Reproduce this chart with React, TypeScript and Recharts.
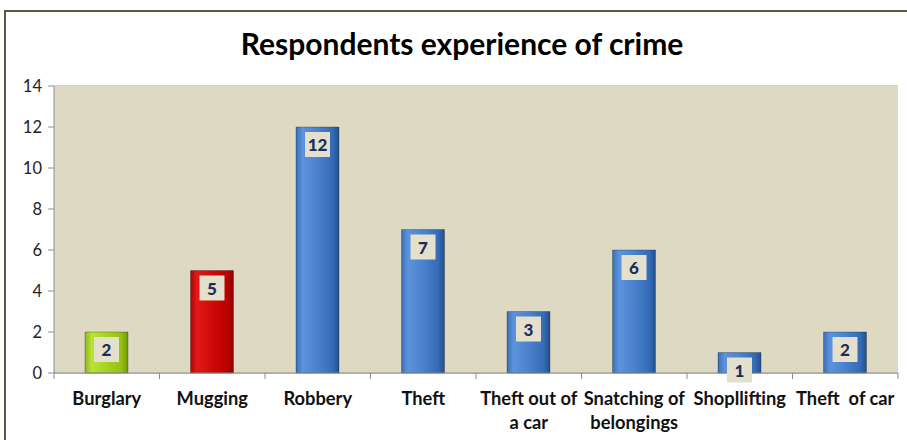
import { BarChart, Bar, XAxis, YAxis, CartesianGrid, Cell, LabelList } from "recharts";

const categories = [
  "Burglary",
  "Mugging",
  "Robbery",
  "Theft",
  "Theft out of a car",
  "Snatching of belongings",
  "Shopllifting",
  "Theft  of car",
];
const counts = [2, 5, 12, 7, 3, 6, 1, 2];
const barFills = ["green", "red", "blue", "blue", "blue", "blue", "blue", "blue"];
const yTicks = [0, 2, 4, 6, 8, 10, 12, 14];

const data = categories.map((name, i) => ({ name, value: counts[i], fill: barFills[i] }));

const FONT = "Lato, 'Open Sans', sans-serif";
const BAND = (898 - 54) / categories.length;

// wrap words into lines of at most 13 characters
const wrap = (text: string) => {
  const words = text.split(" ");
  const lines: string[] = [];
  let cur = "";
  words.forEach((w, i) => {
    const next = i === 0 ? w : cur + " " + w;
    if (next.length > 13 && cur.length > 0) {
      lines.push(cur);
      cur = w;
    } else {
      cur = next;
    }
  });
  lines.push(cur);
  return lines;
};

const CategoryTick = ({ x, payload, index }: any) => {
  const lines = wrap(payload.value);
  const top = 373;
  return (
    <g>
      <line x1={x - BAND / 2} x2={x - BAND / 2} y1={top} y2={top + 6} stroke="#8c8c8c" />
      {index === categories.length - 1 && (
        <line x1={x + BAND / 2} x2={x + BAND / 2} y1={top} y2={top + 6} stroke="#8c8c8c" />
      )}
      <text
        x={x}
        y={top + 32}
        textAnchor="middle"
        fontFamily={FONT}
        fontWeight="bold"
        fontSize={18.3}
        fill="#111"
        style={{ whiteSpace: "pre" }}
      >
        {lines.map((l, i) => (
          <tspan key={i} x={x} dy={i === 0 ? 0 : 24}>
            {l}
          </tspan>
        ))}
      </text>
    </g>
  );
};

const ValueLabel = ({ x, y, width, value }: any) => {
  const cx = x + width / 2;
  return (
    <g>
      <rect x={cx - 12.5} y={y + 5} width={25} height={25} fill="#e4e0cc" />
      <text
        x={cx}
        y={y + 24}
        textAnchor="middle"
        fontFamily={FONT}
        fontWeight="900"
        fontSize={17}
        fill="#1a2f5e"
      >
        {value}
      </text>
    </g>
  );
};

export default function App() {
  return (
    <div style={{ position: "fixed", left: 0, top: 0, width: 907, height: 440, overflow: "hidden", background: "#fff" }}>
      <div
        style={{
          position: "absolute",
          left: 0,
          width: 924,
          top: 25,
          textAlign: "center",
          fontFamily: FONT,
          fontWeight: "bold",
          fontSize: 30,
          color: "#000",
        }}
      >
        Respondents experience of crime
      </div>
      <div style={{ position: "absolute", left: 0, top: 0 }}>
        <BarChart
          width={907}
          height={440}
          data={data}
          margin={{ top: 86, right: 9, bottom: 0, left: 0 }}
          barSize={43}
        >
          <defs>
            <linearGradient id="blue" x1="0" y1="0" x2="1" y2="0">
              <stop offset="0%" stopColor="#3a6fb6" />
              <stop offset="15%" stopColor="#5b93dc" />
              <stop offset="50%" stopColor="#4a82cf" />
              <stop offset="85%" stopColor="#356cb8" />
              <stop offset="100%" stopColor="#24508f" />
            </linearGradient>
            <linearGradient id="red" x1="0" y1="0" x2="1" y2="0">
              <stop offset="0%" stopColor="#b00000" />
              <stop offset="15%" stopColor="#e01a1a" />
              <stop offset="50%" stopColor="#d00808" />
              <stop offset="85%" stopColor="#bb0000" />
              <stop offset="100%" stopColor="#8e0000" />
            </linearGradient>
            <linearGradient id="green" x1="0" y1="0" x2="1" y2="0">
              <stop offset="0%" stopColor="#8cb810" />
              <stop offset="15%" stopColor="#b8e23a" />
              <stop offset="50%" stopColor="#a6d31f" />
              <stop offset="85%" stopColor="#93c012" />
              <stop offset="100%" stopColor="#6f950a" />
            </linearGradient>
          </defs>
          <rect x={5} y={11} width={930} height={460} fill="none" stroke="#5a5a48" strokeWidth={2} />
          <rect x={54} y={86} width={844} height={287} fill="#ddd9c3" />
          <CartesianGrid vertical={false} stroke="#a8a27a" fill="#ddd9c3" />
          <XAxis
            dataKey="name"
            interval={0}
            height={67}
            tickLine={false}
            axisLine={{ stroke: "#8c8c8c" }}
            tick={<CategoryTick />}
          />
          <YAxis
            width={54}
            domain={[0, 14]}
            ticks={yTicks}
            interval={0}
            tickSize={6}
            tickMargin={6}
            axisLine={{ stroke: "#8c8c8c" }}
            tickLine={{ stroke: "#8c8c8c" }}
            tick={{ fontFamily: FONT, fontSize: 16.5, fill: "#222" }}
          />
          <Bar dataKey="value" isAnimationActive={false}>
            {data.map((d, i) => (
              <Cell key={`cell-${i}`} fill={`url(#${d.fill})`} stroke="rgba(0,0,0,0.25)" strokeWidth={1} />
            ))}
            <LabelList dataKey="value" content={<ValueLabel />} />
          </Bar>
        </BarChart>
      </div>
    </div>
  );
}
